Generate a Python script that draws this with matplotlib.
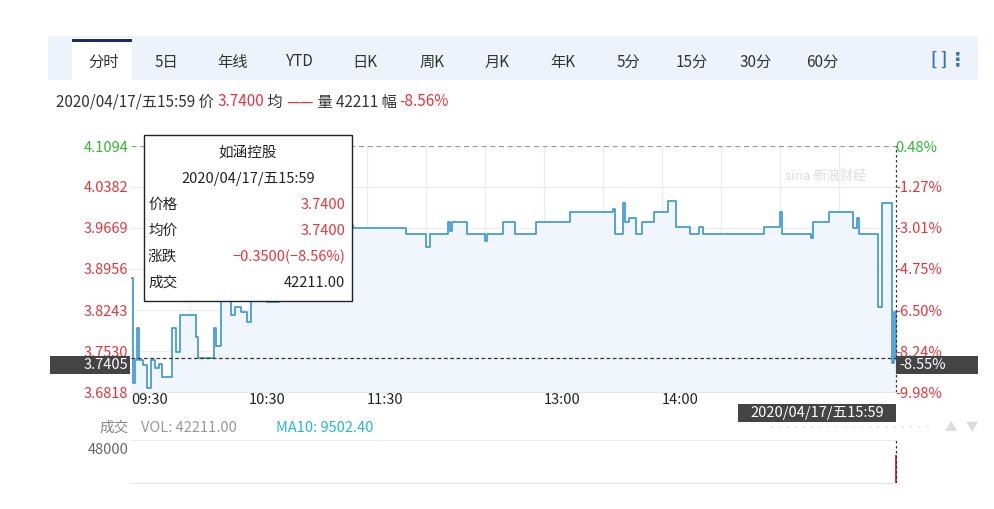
import matplotlib
matplotlib.use("Agg")
import matplotlib.pyplot as plt
from matplotlib.patches import Rectangle

plt.rcParams['font.family'] = ['Noto Sans CJK SC', 'DejaVu Sans']

# minute offsets from 09:30 and prices (step series)
minutes = [0,1,2,3,4,6,8,10,12,14,16,19,21,23,25,30,33,34,39,42,43,45,46,51,53,56,59,61,69,
           75,85,100,112,113,139,140,150,152,160,161,162,163,170,171,179,180,181,188,189,194,195,
           205,206,222,223,242,245,246,249,250,251,253,256,257,259,260,265,266,272,273,276,277,281,
           284,287,289,291,321,322,329,330,331,342,346,347,353,355,364,367,369,370,377,380,382,385,387,388,389]
prices = [3.880,3.697,3.737,3.793,3.737,3.729,3.689,3.737,3.724,3.730,3.708,3.708,3.793,3.751,3.816,3.816,3.777,3.741,3.741,3.793,3.762,3.762,3.842,3.816,3.830,3.820,3.803,3.840,3.838,
          3.900,3.950,3.965,3.972,3.966,3.966,3.956,3.934,3.956,3.956,3.977,3.962,3.977,3.977,3.956,3.956,3.945,3.956,3.956,3.977,3.977,3.956,
          3.956,3.978,3.978,3.995,3.995,4.000,3.956,3.956,4.010,3.978,3.985,3.985,3.956,3.956,3.978,3.978,3.995,3.995,4.013,4.013,3.968,3.968,
          3.956,3.956,3.968,3.956,3.956,3.968,3.968,3.995,3.956,3.956,3.950,3.978,3.978,3.995,3.995,3.966,3.985,3.956,3.956,3.830,4.010,4.010,3.732,3.820,3.740]
price_ticks = [4.1094, 4.0382, 3.9669, 3.8956, 3.8243, 3.7530, 3.6818]
pct_ticks = ['0.48%', '-1.27%', '-3.01%', '-4.75%', '-6.50%', '-8.24%', '-9.98%']
time_ticks = [0, 60, 120, 210, 270]
time_labels = ['09:30', '10:30', '11:30', '13:00', '14:00']
tabs = ['分时', '5日', '年线', 'YTD', '日K', '周K', '月K', '年K', '5分', '15分', '30分', '60分']
tab_x = [104, 166, 233, 300, 365, 432, 497, 563, 628, 692, 756, 822]
volume_min = [389]
volume_val = [42211]
last_price = 3.7405

W, H = 994, 509
fig = plt.figure(figsize=(W/100, H/100), dpi=100)
fig.patch.set_facecolor('white')
FS = 10.5

def fx(x): return x / W
def fy(y): return 1 - y / H
def T(x, y, s, **kw):
    kw.setdefault('fontsize', FS)
    kw.setdefault('va', 'center')
    return fig.text(fx(x), fy(y), s, **kw)

# tab bar
fig.patches.append(Rectangle((fx(48), fy(80)), fx(930), 44/H, transform=fig.transFigure,
                             facecolor='#eef3fb', edgecolor='none', zorder=0))
fig.patches.append(Rectangle((fx(72), fy(80)), fx(60), 42/H, transform=fig.transFigure,
                             facecolor='white', edgecolor='none', zorder=1))
fig.patches.append(Rectangle((fx(72), fy(42)), fx(60), 2.5/H, transform=fig.transFigure,
                             facecolor='#1a2a6c', edgecolor='none', zorder=2))
for t, x in zip(tabs, tab_x):
    T(x, 62, t, ha='center', fontsize=11, color='#333333', zorder=3)
T(939, 60, '[ ]', ha='center', fontsize=12, color='#3b6fb6', fontweight='bold', zorder=3)
T(958, 60, '⋮', ha='center', fontsize=14, color='#3b6fb6', fontweight='bold', zorder=3)

# header line
hx = 56
parts = [('2020/04/17/五15:59 价 ', '#333333'), ('3.7400', '#e8343a'), (' 均 ', '#333333'),
         ('——', '#e8343a'), (' 量 42211 幅 ', '#333333'), ('-8.56%', '#e8343a')]
r = fig.canvas.get_renderer()
for s, c in parts:
    t = T(hx, 102, s, fontsize=11, color=c)
    bb = t.get_window_extent(renderer=r)
    hx += bb.width

# main axes
x0, x1, y0, y1 = 131, 898, 146, 392
ax = fig.add_axes([fx(x0), fy(y1), (x1 - x0)/W, (y1 - y0)/H])
ax.set_xlim(0, 390)
ax.set_ylim(price_ticks[-1], price_ticks[0])
ax.step(minutes, prices, where='post', color='#3a95d2', lw=1.2, zorder=3)
ax.fill_between(minutes, prices, price_ticks[-1], step='post', color='#f1f6fc', zorder=1)
for v in range(30, 390, 30):
    ax.axvline(v, color='#ececec', lw=0.8, zorder=0)
for p in price_ticks[1:-1]:
    ax.axhline(p, color='#ececec', lw=0.8, zorder=0)
ax.axhline(price_ticks[0], color='#999999', lw=0.9, ls=(0, (4, 3)), zorder=2)
ax.axhline(last_price, color='#333333', lw=0.9, ls=(0, (3, 2)), zorder=4)
ax.axvline(389, color='#333333', lw=0.9, ls=(0, (2, 2)), zorder=4)
for s in ax.spines.values():
    s.set_visible(False)
ax.spines['bottom'].set_visible(True)
ax.spines['bottom'].set_color('#e6e6e6')
ax.set_yticks(price_ticks)
ax.set_yticklabels([f'{p:.4f}' for p in price_ticks])
for i, lab in enumerate(ax.get_yticklabels()):
    lab.set_color('#2eb82e' if i == 0 else '#e8343a')
ax.tick_params(axis='y', length=0, labelsize=FS, pad=2)
ax.set_xticks(time_ticks)
ax.set_xticklabels(time_labels)
for lab in ax.get_xticklabels():
    lab.set_ha('left')
ax.tick_params(axis='x', length=0, labelsize=FS, pad=1, colors='#222222')
ax2 = ax.twinx()
ax2.set_ylim(ax.get_ylim())
ax2.set_yticks(price_ticks)
ax2.set_yticklabels(pct_ticks)
for i, lab in enumerate(ax2.get_yticklabels()):
    lab.set_color('#2eb82e' if i == 0 else '#e8343a')
ax2.tick_params(axis='y', length=0, labelsize=FS, pad=-2)
for s in ax2.spines.values():
    s.set_visible(False)

# current price badges
fig.patches.append(Rectangle((fx(50), fy(374)), fx(80), 18/H, transform=fig.transFigure,
                             facecolor='#444444', edgecolor='none', zorder=5))
T(128, 365, '3.7405', ha='right', color='white', zorder=6)
fig.patches.append(Rectangle((fx(896), fy(374)), fx(82), 18/H, transform=fig.transFigure,
                             facecolor='#444444', edgecolor='none', zorder=5))
T(899, 365, '-8.55%', ha='left', color='white', zorder=6)
fig.patches.append(Rectangle((fx(738), fy(422)), fx(158), 18/H, transform=fig.transFigure,
                             facecolor='#444444', edgecolor='none', zorder=5))
T(817, 413, '2020/04/17/五15:59', ha='center', color='white', zorder=6)
T(826, 176, 'sina 新浪财经', ha='center', color='#dddddd', fontsize=9.5, style='italic', zorder=2)

# tooltip
fig.patches.append(Rectangle((fx(144), fy(301)), fx(208), 166/H, transform=fig.transFigure,
                             facecolor='white', edgecolor='#222222', lw=1, zorder=7))
T(248, 153, '如涵控股', ha='center', color='#222222', zorder=8)
T(248, 179, '2020/04/17/五15:59', ha='center', color='#222222', zorder=8)
rows = [('价格', '3.7400', '#e8343a'), ('均价', '3.7400', '#e8343a'),
        ('涨跌', '−0.3500(−8.56%)', '#e8343a'), ('成交', '42211.00', '#222222')]
for i, (a, b, c) in enumerate(rows):
    y = 205 + i * 26
    T(148, y, a, color='#222222', zorder=8)
    T(345, y, b, ha='right', color=c, zorder=8)

# volume panel
T(129, 428, '成交', ha='right', color='#888888')
T(141, 428, 'VOL: 42211.00', color='#999999')
T(276, 428, 'MA10: 9502.40', color='#22b8d8')
T(129, 450, '48000', ha='right', color='#666666')
axv = fig.add_axes([fx(x0), fy(483), (x1 - x0)/W, 43/H])
axv.set_xlim(0, 390)
axv.set_ylim(0, 66000)
axv.bar(volume_min, volume_val, width=0.8, color='#e8343a')
axv.axvline(389, color='#333333', lw=0.9, ls=(0, (2, 2)))
axv.axhline(66000, color='#e6e6e6', lw=1.2)
axv.set_xticks([]); axv.set_yticks([])
for s in axv.spines.values():
    s.set_visible(False)
axv.spines['bottom'].set_visible(True)
axv.spines['bottom'].set_color('#e6e6e6')
T(850, 428, '····················', ha='center', fontsize=6, color='#dddddd')
T(951, 428, '▲', ha='center', fontsize=9, color='#dddddd')
T(972, 428, '▼', ha='center', fontsize=9, color='#dddddd')

fig.savefig('out.png', dpi=100)
